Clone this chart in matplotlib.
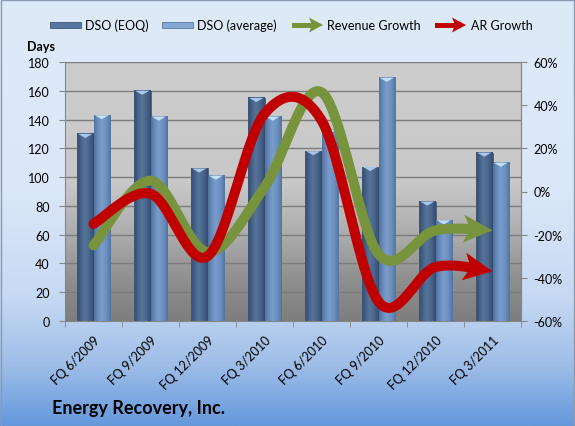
import numpy as np
import matplotlib
matplotlib.use('Agg')
import matplotlib.pyplot as plt
from matplotlib.patches import Polygon, Rectangle
from matplotlib.transforms import IdentityTransform

categories = ["FQ 6/2009", "FQ 9/2009", "FQ 12/2009", "FQ 3/2010",
              "FQ 6/2010", "FQ 9/2010", "FQ 12/2010", "FQ 3/2011"]
dso_eoq = [130, 160, 106, 155, 118, 107, 83, 117]
dso_avg = [143, 142, 101, 142, 133, 169, 70, 110]
revenue_growth = [-25, 5, -28, 2, 46, -29, -18, -18]
ar_growth = [-15, -1, -30, 36, 33, -51, -35, -37]
left_ticks = [0, 20, 40, 60, 80, 100, 120, 140, 160, 180]
right_ticks = [-60, -40, -20, 0, 20, 40, 60]

plt.rcParams['font.family'] = ['Lato', 'DejaVu Sans']

W, H = 575, 427
fig = plt.figure(figsize=(W / 100, H / 100), dpi=100)


def vgrad(stops, n=300):
    pos = np.array([s[0] for s in stops])
    cols = np.array([s[1] for s in stops], dtype=float) / 255.0
    t = np.linspace(0, 1, n)
    arr = np.stack([np.interp(t, pos, cols[:, k]) for k in range(3)], axis=-1)
    return arr[:, None, :]


# figure background
bg = fig.add_axes([0, 0, 1, 1], zorder=-1)
bg.axis('off')
bg.imshow(vgrad([(0, (223, 234, 249)), (0.45, (219, 231, 248)), (0.70, (198, 217, 243)),
                 (0.86, (158, 189, 231)), (1.0, (100, 152, 221))]),
          aspect='auto', extent=[0, 1, 0, 1], interpolation='bilinear')
bg.set_xlim(0, 1)
bg.set_ylim(0, 1)
bg.add_patch(Rectangle((0.5 / W, 0.5 / H), 1 - 1.5 / W, 1 - 1.5 / H, fill=False,
                       edgecolor='#8a9bb0', lw=1))

# main axes
x0px, x1px, ytop, ybot = 65, 521, 63, 322
ax = fig.add_axes([x0px / W, 1 - ybot / H, (x1px - x0px) / W, (ybot - ytop) / H])
ax.imshow(vgrad([(0, (205, 205, 205)), (0.47, (200, 200, 200)), (0.68, (170, 170, 170)),
                 (0.84, (143, 143, 143)), (1.0, (126, 126, 126))]),
          aspect='auto', extent=[0, 1, 0, 1], transform=ax.transAxes, zorder=0,
          interpolation='bilinear')

x = np.arange(len(categories))
bw = 0.29


def hgrad(dark, mid, light):
    cols = np.array([dark, mid, light, mid, dark], dtype=float) / 255.0
    pos = np.array([0, 0.25, 0.45, 0.75, 1.0])
    t = np.linspace(0, 1, 40)
    arr = np.stack([np.interp(t, pos, cols[:, k]) for k in range(3)], axis=-1)
    return arr[None, :, :]


g_eoq = hgrad((52, 76, 110), (72, 100, 138), (86, 115, 154))
g_avg = hgrad((84, 116, 160), (106, 142, 190), (122, 157, 204))

for xi, h in zip(x, dso_eoq):
    xa, xb = xi - bw, xi
    ax.imshow(g_eoq, extent=[xa, xb, 0, h], aspect='auto', zorder=2, interpolation='bilinear')
    ax.add_patch(Rectangle((xa, 0), bw, h, fill=False, edgecolor='#3e5678', lw=0.6, zorder=3))
    ax.add_patch(Polygon([(xa + 0.02, h), (xb - 0.02, h), (xi - bw / 2, h - 2.8)],
                         closed=True, facecolor='#a9c9ea', edgecolor='none', zorder=3))
for xi, h in zip(x, dso_avg):
    xa, xb = xi, xi + bw
    ax.imshow(g_avg, extent=[xa, xb, 0, h], aspect='auto', zorder=2, interpolation='bilinear')
    ax.add_patch(Rectangle((xa, 0), bw, h, fill=False, edgecolor='#5677a0', lw=0.6, zorder=3))
    ax.add_patch(Polygon([(xa + 0.02, h), (xb - 0.02, h), (xi + bw / 2, h - 2.8)],
                         closed=True, facecolor='#c2e0f6', edgecolor='none', zorder=3))

ax.set_xlim(-0.5, len(categories) - 0.5)
ax.set_ylim(0, 180)
ax.set_yticks(left_ticks)
ax.set_yticklabels([str(v) for v in left_ticks], fontsize=9)
ax.yaxis.grid(True, color='#7c7c7c', lw=1)
ax.set_axisbelow(True)
ax.set_xticks(x)
ax.set_xticklabels(categories, rotation=45, ha='right', va='top', rotation_mode='anchor',
                   fontsize=9)
ax.set_xticks(np.arange(-0.5, len(categories)), minor=True)
ax.tick_params(axis='x', which='major', length=0, pad=9)
ax.tick_params(axis='x', which='minor', length=4, color='#868686')
ax.tick_params(axis='y', length=4, color='#868686', pad=7)
for s in ['top']:
    ax.spines[s].set_visible(False)
for s in ['left', 'bottom', 'right']:
    ax.spines[s].set_color('#868686')

ax2 = ax.twinx()
ax2.set_ylim(-60, 60)
ax2.set_xlim(-0.5, len(categories) - 0.5)
ax2.set_yticks(right_ticks)
ax2.set_yticklabels([f"{v}%" for v in right_ticks], fontsize=9)
ax2.tick_params(axis='y', length=4, color='#868686', pad=5)
for s in ['top', 'left', 'bottom']:
    ax2.spines[s].set_visible(False)
ax2.spines['right'].set_color('#868686')

fig.text(41 / W, 1 - 47 / H, "Days", fontsize=9, fontweight='bold', ha='center', va='center')
fig.text(52 / W, 1 - 409 / H, "Energy Recovery, Inc.", fontsize=13, fontweight='bold',
         ha='left', va='center')


def smooth_display(axis, xs, ys, n=40):
    P = axis.transData.transform(np.column_stack([xs, ys]))
    pts = []
    m = len(P)
    for i in range(m - 1):
        pm = P[i - 1] if i > 0 else P[i]
        p0, p1 = P[i], P[i + 1]
        p2 = P[i + 2] if i + 2 < m else P[i + 1]
        c1 = p0 + (p1 - pm) / 6.0
        c2 = p1 - (p2 - p0) / 6.0
        t = np.linspace(0, 1, n)[:, None]
        seg = ((1 - t) ** 3) * p0 + 3 * ((1 - t) ** 2) * t * c1 + 3 * (1 - t) * t ** 2 * c2 + t ** 3 * p1
        if i > 0:
            seg = seg[1:]
        pts.append(seg)
    return np.vstack(pts)


def arrow_line(axis, xs, ys, color, lw_px=10, head_len=29, head_half=14, notch=7, z=5):
    pts = smooth_display(axis, xs, ys)
    tip = pts[-1]
    d = np.hypot(*(pts - tip).T)
    idx = np.where(d > 12)[0][-1]
    u = tip - pts[idx]
    u = u / np.hypot(*u)
    nrm = np.array([-u[1], u[0]])
    shaft_end = tip - u * (head_len - notch - 1)
    keep = pts[d > (head_len - notch)]
    line = np.vstack([keep, shaft_end])
    inv = axis.transData.inverted().transform(line)
    axis.plot(inv[:, 0], inv[:, 1], color=color, lw=lw_px * 0.72, solid_capstyle='round',
              solid_joinstyle='round', zorder=z)
    back = tip - u * head_len
    head = [tip, back + nrm * head_half, tip - u * (head_len - notch), back - nrm * head_half]
    axis.add_patch(Polygon(head, closed=True, facecolor=color, edgecolor='none',
                           transform=IdentityTransform(), zorder=z))


green = '#77933c'
red = '#c00000'
arrow_line(ax2, x, revenue_growth, green, z=5)
arrow_line(ax2, x, ar_growth, red, z=6)

# legend (drawn manually in pixel coordinates)
ly = H - 26
tr = IdentityTransform()
fig.patches.append(Rectangle((50, ly - 3), 31, 6, facecolor='#5877a0', edgecolor='#3e5678',
                             lw=0.6, transform=tr, figure=fig))
fig.patches.append(Rectangle((162, ly - 3), 31, 6, facecolor='#86a8d4', edgecolor='#5677a0',
                             lw=0.6, transform=tr, figure=fig))
for xs_, col in [(292, green), (435, red)]:
    fig.patches.append(Rectangle((xs_, ly - 2.5), 20, 5, facecolor=col, edgecolor='none',
                                 transform=tr, figure=fig))
    fig.patches.append(Polygon([(xs_ + 31, ly), (xs_ + 17, ly + 7.5), (xs_ + 20, ly),
                                (xs_ + 17, ly - 7.5)], closed=True, facecolor=col,
                               edgecolor='none', transform=tr, figure=fig))
for tx, label in [(85, "DSO (EOQ)"), (197, "DSO (average)"), (327, "Revenue Growth"),
                  (471, "AR Growth")]:
    fig.text(tx / W, ly / H, label, fontsize=9, ha='left', va='center')

fig.savefig('out.png', dpi=100)
